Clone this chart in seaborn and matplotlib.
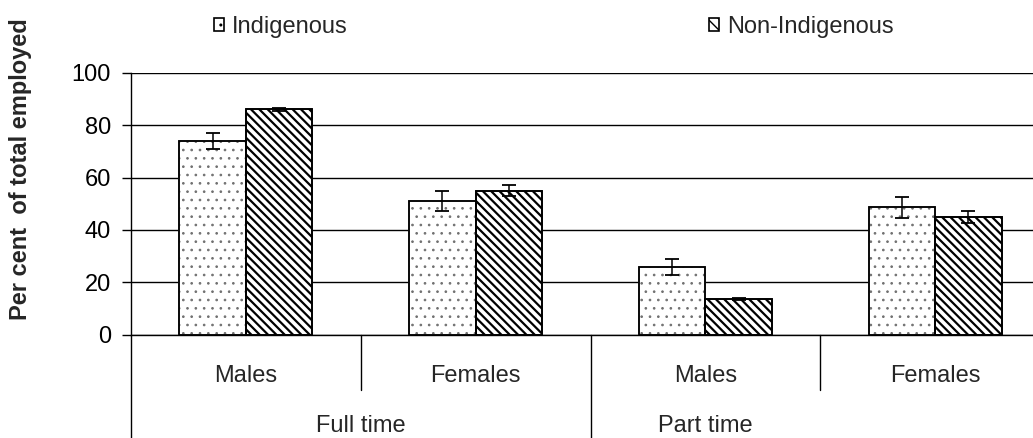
import matplotlib
matplotlib.use("Agg")
import matplotlib.pyplot as plt
import pandas as pd
import seaborn as sns
from matplotlib.patches import Patch, Rectangle

# Chart data
groups = ["Full time Males", "Full time Females", "Part time Males", "Part time Females"]
sex_labels = ["Males", "Females", "Males", "Females"]
time_labels = ["Full time", "Part time"]
series = ["Indigenous", "Non-Indigenous"]
indigenous = [74.0, 51.0, 25.8, 48.7]
indigenous_err = [3.1, 3.9, 3.0, 4.0]
non_indigenous = [86.1, 54.9, 13.7, 44.9]
non_indigenous_err = [0.5, 2.1, 0.5, 2.3]

df = pd.DataFrame({
    "group": groups * 2,
    "series": [series[0]] * 4 + [series[1]] * 4,
    "value": indigenous + non_indigenous,
})

sns.set_style("white")
plt.rcParams["font.family"] = ["Liberation Sans", "DejaVu Sans"]
plt.rcParams["hatch.linewidth"] = 1.6
FS = 17

fig = plt.figure(figsize=(10.33, 4.38), dpi=100)
ax = fig.add_axes([0.1268, 0.2358, 0.8897, 0.598])

sns.barplot(data=df, x="group", y="value", hue="series", order=groups,
            hue_order=series, palette=["white", "white"], width=0.578,
            edgecolor="black", linewidth=1.1, errorbar=None, legend=False,
            ax=ax, zorder=3)


def set_hatch_lw(p, lw):
    if hasattr(p, "set_hatch_linewidth"):
        p.set_hatch_linewidth(lw)
    else:
        p._hatch_linewidth = lw


hatches = ["..", "\\\\\\\\"]
hatch_colors = ["#707070", "black"]
hatch_lws = [0.7, 1.6]
errs = [indigenous_err, non_indigenous_err]
for cont, h, hc, hlw, err in zip(ax.containers, hatches, hatch_colors, hatch_lws, errs):
    xs, ys = [], []
    for bar in cont.patches:
        bar.set_hatch(h)
        # edge colour drives hatch colour; redraw a black outline on top
        bar.set_edgecolor(hc)
        set_hatch_lw(bar, hlw)
        ax.add_patch(Rectangle((bar.get_x(), bar.get_y()), bar.get_width(),
                               bar.get_height(), fill=False, edgecolor="black",
                               linewidth=1.3, zorder=3.5))
        xs.append(bar.get_x() + bar.get_width() / 2)
        ys.append(bar.get_height())
    ax.errorbar(xs, ys, yerr=err, fmt="none", ecolor="black", elinewidth=1.1,
                capsize=5, capthick=1.3, zorder=4)

ax.set_ylim(0, 100)
ax.set_xlim(-0.5, 3.5)
ax.set_yticks(range(0, 101, 20))
ax.yaxis.grid(True, color="black", linewidth=1.0)
ax.set_axisbelow(True)
ax.tick_params(axis="y", left=True, length=6.5, width=1, color="black",
               labelsize=FS, pad=8, labelcolor="black")
ax.set_xticks([])
ax.set_xlabel("")
ax.set_ylabel("")
for side in ["top", "right"]:
    ax.spines[side].set_visible(False)
for side in ["left", "bottom"]:
    ax.spines[side].set_color("black")
    ax.spines[side].set_linewidth(1.0)

tr = ax.get_xaxis_transform()
for i, lab in enumerate(sex_labels):
    ax.text(i, -0.156, lab, transform=tr, ha="center", va="center", fontsize=FS)
ax.text(0.5, -0.35, time_labels[0], transform=tr, ha="center", va="center", fontsize=FS)
ax.text(2.0, -0.35, time_labels[1], transform=tr, ha="center", va="center", fontsize=FS)

# category separators below the axis
ax.plot([-0.5, -0.5], [0, -0.4], transform=tr, color="black", lw=1.0, clip_on=False)
ax.plot([1.5, 1.5], [0, -0.4], transform=tr, color="black", lw=1.0, clip_on=False)
for xv in [0.5, 2.5]:
    ax.plot([xv, xv], [0, -0.21], transform=tr, color="black", lw=1.0, clip_on=False)

fig.text(21 / 1033, 1 - 169 / 438, "Per cent  of total employed", rotation=90,
         ha="center", va="center", fontsize=FS, fontweight="bold")

handles = [Patch(facecolor="white", edgecolor="black", hatch=h, linewidth=1.2, label=s)
           for h, s in zip(["..", "\\\\\\"], series)]
leg = fig.legend(handles=handles, loc="center left", bbox_to_anchor=(214 / 1033, 1 - 27 / 438),
                 ncol=2, frameon=False, fontsize=FS, handlelength=0.42, handleheight=0.42,
                 handletextpad=0.35, columnspacing=15.3, borderpad=0, borderaxespad=0)
for p in leg.get_patches():
    set_hatch_lw(p, 1.0)

fig.savefig("out.png", dpi=100)
